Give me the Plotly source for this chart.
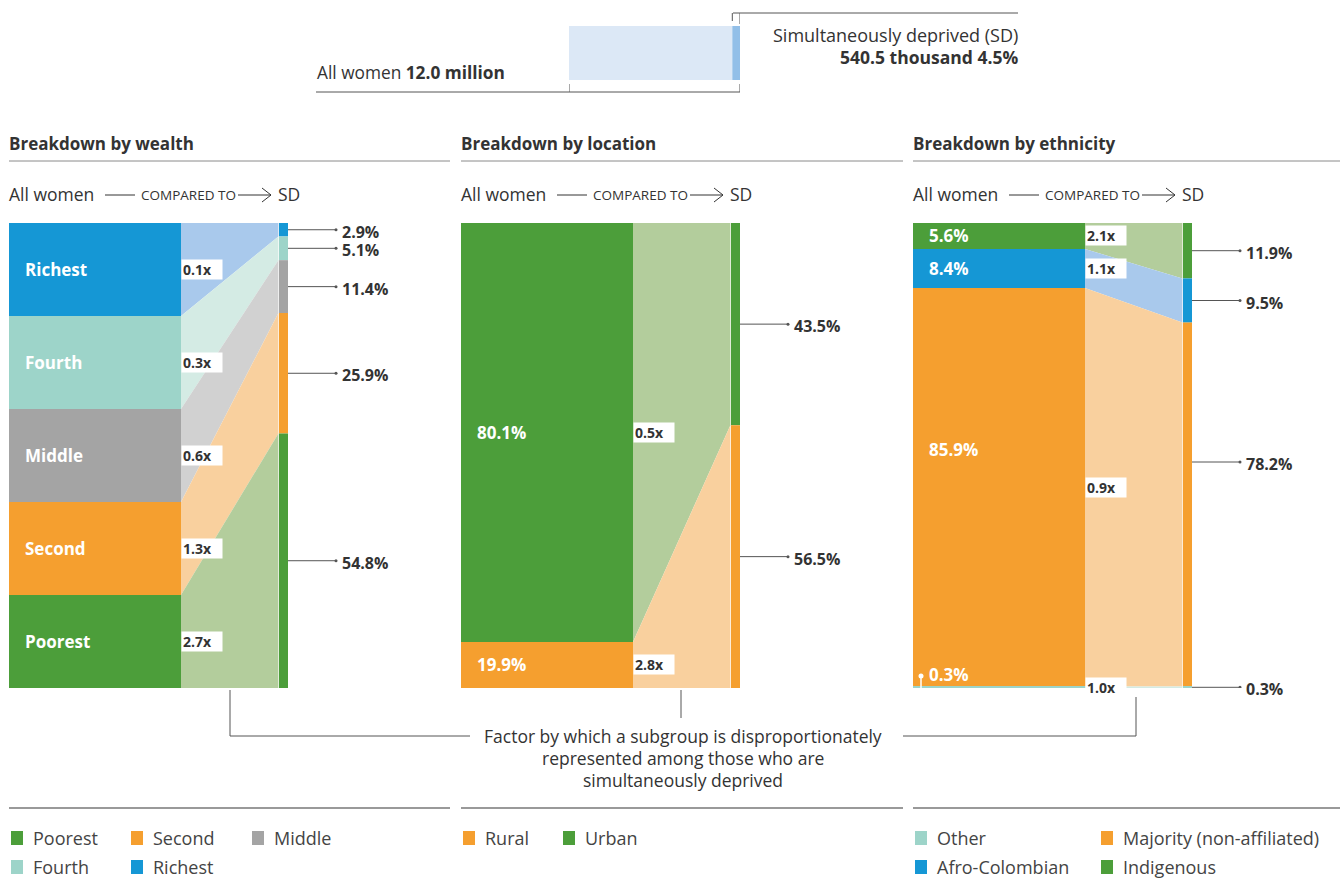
import plotly.graph_objects as go

# ---------------- data ----------------
total_women_label = "12.0 million"
sd_count_label = "540.5 thousand"
sd_share = 4.5

wealth_groups = ["Richest", "Fourth", "Middle", "Second", "Poorest"]
wealth_all = [20.0, 20.0, 20.0, 20.0, 20.0]
wealth_sd = [2.9, 5.1, 11.4, 25.9, 54.8]
wealth_factor = ["0.1x", "0.3x", "0.6x", "1.3x", "2.7x"]

location_groups = ["Urban", "Rural"]
location_all_labels = ["80.1%", "19.9%"]
location_all = [90.1, 9.9]          # bar split as drawn in the picture
location_sd = [43.5, 56.5]
location_factor = ["0.5x", "2.8x"]

eth_groups = ["Indigenous", "Afro-Colombian", "Majority (non-affiliated)", "Other"]
eth_all_labels = ["5.6%", "8.4%", "85.9%", "0.3%"]
eth_all = [5.6, 8.4, 85.9, 0.3]
eth_sd = [11.9, 9.5, 78.2, 0.3]
eth_factor = ["2.1x", "1.1x", "0.9x", "1.0x"]

# ---------------- styling ----------------
W, H = 1340, 878
FONT = "Open Sans"
TXT = "#333333"
GREEN, GREEN_L = "#4c9e3a", "#b3cd9c"
ORANGE, ORANGE_L = "#f59f2f", "#f9d09e"
GREY, GREY_L = "#a4a4a4", "#d1d1d1"
TEAL, TEAL_L = "#9dd4c9", "#d4ebe4"
BLUE, BLUE_L = "#1597d5", "#a9c9ec"

colors = {
    "Richest": (BLUE, BLUE_L), "Fourth": (TEAL, TEAL_L), "Middle": (GREY, GREY_L),
    "Second": (ORANGE, ORANGE_L), "Poorest": (GREEN, GREEN_L),
    "Urban": (GREEN, GREEN_L), "Rural": (ORANGE, ORANGE_L),
    "Indigenous": (GREEN, GREEN_L), "Afro-Colombian": (BLUE, BLUE_L),
    "Majority (non-affiliated)": (ORANGE, ORANGE_L), "Other": (TEAL, TEAL_L),
}

def X(px):
    return px / W

def Y(py):
    return 1 - py / H

# panel geometry (pixel units within each panel axis)
BAR_W = 172
FLOW_END = 270
SD_END = 279
CALL_END = SD_END + 48
LABEL_X = CALL_END + 4

panels = [
    dict(title="Breakdown by wealth", left=9, right=450, groups=wealth_groups,
         all=wealth_all, labels=wealth_groups, sd=wealth_sd, factor=wealth_factor,
         all_label_y={}, sd_label_y={}, factor_y={}),
    dict(title="Breakdown by location", left=461, right=903, groups=location_groups,
         all=location_all, labels=location_all_labels, sd=location_sd, factor=location_factor,
         all_label_y={}, sd_label_y={}, factor_y={}),
    dict(title="Breakdown by ethnicity", left=913, right=1340, groups=eth_groups,
         all=eth_all, labels=eth_all_labels, sd=eth_sd, factor=eth_factor,
         all_label_y={"Majority (non-affiliated)": 48.8, "Other": 97.0},
         sd_label_y={"Majority (non-affiliated)": 51.4}, factor_y={}),
]

TOP_PX, BOT_PX = 223, 688

fig = go.Figure()
annotations = []
shapes = []

def stack(vals):
    s = sum(vals)
    out, c = [], 0.0
    for v in vals:
        v2 = v * 100.0 / s
        out.append((c, c + v2))
        c += v2
    return out

for i, p in enumerate(panels):
    n = "" if i == 0 else str(i + 1)
    xa, ya = "x" + n, "y" + n
    pw = p["right"] - p["left"]
    fig.update_layout(**{
        "xaxis" + n: dict(domain=[X(p["left"]), X(p["right"])], range=[0, pw], visible=False, fixedrange=True),
        "yaxis" + n: dict(domain=[Y(BOT_PX), Y(TOP_PX)], range=[100, 0], visible=False, fixedrange=True),
    })
    sa = stack(p["all"])
    ss = stack(p["sd"])
    for g, lab, vs, (a0, a1), (s0, s1), fac in zip(p["groups"], p["labels"], p["sd"], sa, ss, p["factor"]):
        dark, light = colors[g]
        # flow band
        fig.add_trace(go.Scatter(
            x=[BAR_W, BAR_W, FLOW_END - 0.6, FLOW_END - 0.6, BAR_W],
            y=[a0, a1, s1, s0, a0], fill="toself", fillcolor=light,
            line=dict(width=0, color=light), mode="lines", hoverinfo="skip",
            showlegend=False, xaxis=xa, yaxis=ya))
        # all women bar
        fig.add_trace(go.Bar(x=[BAR_W / 2], y=[a1 - a0], base=[a0], width=[BAR_W],
                             marker=dict(color=dark, line=dict(width=0)),
                             showlegend=False, hoverinfo="skip", xaxis=xa, yaxis=ya))
        # SD bar
        fig.add_trace(go.Bar(x=[(FLOW_END + SD_END) / 2], y=[s1 - s0], base=[s0],
                             width=[SD_END - FLOW_END],
                             marker=dict(color=dark, line=dict(width=0)),
                             showlegend=False, hoverinfo="skip", xaxis=xa, yaxis=ya))
        # SD callout
        sy = p["sd_label_y"].get(g, (s0 + s1) / 2)
        fig.add_trace(go.Scatter(x=[SD_END, CALL_END], y=[sy, sy], mode="lines",
                                 line=dict(color="#555555", width=1), hoverinfo="skip",
                                 showlegend=False, xaxis=xa, yaxis=ya))
        fig.add_trace(go.Scatter(x=[CALL_END], y=[sy], mode="markers",
                                 marker=dict(color="#555555", size=3), hoverinfo="skip",
                                 showlegend=False, xaxis=xa, yaxis=ya))
        annotations.append(dict(x=LABEL_X, y=sy, xref=xa, yref=ya, text=f"<b>{vs}%</b>",
                                showarrow=False, xanchor="left", yanchor="middle", yshift=-2,
                                font=dict(family=FONT, size=16, color=TXT)))
        # left bar label
        ly = p["all_label_y"].get(g, (a0 + a1) / 2)
        annotations.append(dict(x=14, y=ly, xref=xa, yref=ya, text=f"<b>{lab}</b>",
                                showarrow=False, xanchor="left", yanchor="middle",
                                font=dict(family=FONT, size=17, color="white")))
        if g == "Other":
            fig.add_trace(go.Scatter(x=[8, 8], y=[a1, ly + 0.4], mode="lines",
                                     line=dict(color="white", width=1.5), hoverinfo="skip",
                                     showlegend=False, xaxis=xa, yaxis=ya))
            fig.add_trace(go.Scatter(x=[8], y=[ly + 0.4], mode="markers",
                                     marker=dict(color="white", size=5), hoverinfo="skip",
                                     showlegend=False, xaxis=xa, yaxis=ya))
        # factor label
        fy = p["factor_y"].get(g, (a0 + a1) / 2)
        annotations.append(dict(x=BAR_W - 0.5, y=fy, xref=xa, yref=ya, text=f"<b>{fac}</b>",
                                showarrow=False, xanchor="left", yanchor="middle",
                                width=38, height=17, align="left", bgcolor="white",
                                borderpad=1,
                                font=dict(family=FONT, size=14, color=TXT)))

    L = p["left"]
    # header
    annotations.append(dict(x=X(L - 2), y=Y(143), xref="paper", yref="paper", text=f"<b>{p['title']}</b>",
                            showarrow=False, xanchor="left", yanchor="middle",
                            font=dict(family=FONT, size=17, color=TXT)))
    shapes.append(dict(type="line", xref="paper", yref="paper", x0=X(L), x1=X(p["right"]),
                       y0=Y(161), y1=Y(161), line=dict(color="#8a8a8a", width=1)))
    annotations.append(dict(x=X(L - 2), y=Y(194), xref="paper", yref="paper", text="All women",
                            showarrow=False, xanchor="left", yanchor="middle",
                            font=dict(family=FONT, size=17.5, color=TXT)))
    shapes.append(dict(type="line", xref="paper", yref="paper", x0=X(L + 96), x1=X(L + 126),
                       y0=Y(195), y1=Y(195), line=dict(color=TXT, width=1)))
    annotations.append(dict(x=X(L + 179), y=Y(195), xref="paper", yref="paper", text="COMPARED TO",
                            showarrow=False, xanchor="center", yanchor="middle",
                            font=dict(family=FONT, size=13.5, color=TXT)))
    shapes.append(dict(type="line", xref="paper", yref="paper", x0=X(L + 229), x1=X(L + 262),
                       y0=Y(195), y1=Y(195), line=dict(color=TXT, width=1)))
    shapes.append(dict(type="path", xref="paper", yref="paper",
                       path=f"M {X(L + 253)} {Y(188)} L {X(L + 262)} {Y(195)} L {X(L + 253)} {Y(202)}",
                       line=dict(color=TXT, width=1)))
    annotations.append(dict(x=X(L + 267), y=Y(194), xref="paper", yref="paper", text="SD",
                            showarrow=False, xanchor="left", yanchor="middle",
                            font=dict(family=FONT, size=17.5, color=TXT)))
    # legend separator
    shapes.append(dict(type="line", xref="paper", yref="paper", x0=X(L), x1=X(p["right"]),
                       y0=Y(808), y1=Y(808), line=dict(color="#999999", width=2)))

# ---------------- top summary bar ----------------
fig.update_layout(
    xaxis4=dict(domain=[X(569), X(740)], range=[0, 100], visible=False, fixedrange=True),
    yaxis4=dict(domain=[Y(80), Y(26)], range=[-0.5, 0.5], visible=False, fixedrange=True),
)
fig.add_trace(go.Bar(x=[100 - sd_share], base=[0], y=[0], width=[1], orientation="h",
                     marker=dict(color="#dce8f6", line=dict(width=0)), showlegend=False,
                     hoverinfo="skip", xaxis="x4", yaxis="y4"))
fig.add_trace(go.Bar(x=[sd_share], base=[100 - sd_share], y=[0], width=[1], orientation="h",
                     marker=dict(color="#92bfe8", line=dict(width=0)), showlegend=False,
                     hoverinfo="skip", xaxis="x4", yaxis="y4"))
LC = "#555555"
shapes += [
    dict(type="line", xref="paper", yref="paper", x0=X(316), x1=X(740), y0=Y(92), y1=Y(92), line=dict(color=LC, width=1)),
    dict(type="line", xref="x4", yref="paper", x0=0, x1=0, y0=Y(84), y1=Y(92), line=dict(color=LC, width=1)),
    dict(type="line", xref="x4", yref="paper", x0=100, x1=100, y0=Y(84), y1=Y(92), line=dict(color=LC, width=1)),
    dict(type="line", xref="x4", yref="paper", x0=100 - sd_share, x1=100 - sd_share, y0=Y(13), y1=Y(21), line=dict(color=LC, width=1)),
    dict(type="line", xref="x4", yref="paper", x0=100, x1=100, y0=Y(13), y1=Y(24), line=dict(color=LC, width=1)),
    dict(type="line", xref="paper", yref="paper", x0=X(733), x1=X(1018), y0=Y(13), y1=Y(13), line=dict(color=LC, width=1)),
]
annotations += [
    dict(x=X(507), y=Y(73), xref="paper", yref="paper", text=f"All women <b>{total_women_label}</b>",
         showarrow=False, xanchor="right", yanchor="middle", font=dict(family=FONT, size=17.3, color=TXT)),
    dict(x=X(1020), y=Y(35), xref="paper", yref="paper", text="Simultaneously deprived (SD)",
         showarrow=False, xanchor="right", yanchor="middle", font=dict(family=FONT, size=18, color=TXT)),
    dict(x=X(1020), y=Y(57), xref="paper", yref="paper", text=f"<b>{sd_count_label} {sd_share}%</b>",
         showarrow=False, xanchor="right", yanchor="middle", font=dict(family=FONT, size=17.5, color=TXT)),
]

# ---------------- factor explanation bracket ----------------
shapes += [
    dict(type="path", xref="paper", yref="paper",
         path=f"M {X(230)} {Y(690)} L {X(230)} {Y(736)} L {X(470)} {Y(736)}", line=dict(color=LC, width=1)),
    dict(type="path", xref="paper", yref="paper",
         path=f"M {X(903)} {Y(736)} L {X(1136)} {Y(736)} L {X(1136)} {Y(697)}", line=dict(color=LC, width=1)),
    dict(type="line", xref="paper", yref="paper", x0=X(681), x1=X(681), y0=Y(690), y1=Y(718), line=dict(color=LC, width=1)),
]
for t, yy in [("Factor by which a subgroup is disproportionately", 736),
              ("represented among those who are", 758),
              ("simultaneously deprived", 780)]:
    annotations.append(dict(x=X(683), y=Y(yy), xref="paper", yref="paper", text=t, showarrow=False,
                            xanchor="center", yanchor="middle", font=dict(family=FONT, size=17.5, color=TXT)))

# ---------------- legends ----------------
legend_items = [
    ("Poorest", 11, 838), ("Second", 131, 838), ("Middle", 252, 838),
    ("Fourth", 11, 867), ("Richest", 131, 867),
    ("Rural", 463, 838), ("Urban", 563, 838),
    ("Other", 915, 838), ("Majority (non-affiliated)", 1101, 838),
    ("Afro-Colombian", 915, 867), ("Indigenous", 1101, 867),
]
for name, lx, ly in legend_items:
    shapes.append(dict(type="rect", xref="paper", yref="paper", x0=X(lx), x1=X(lx + 12),
                       y0=Y(ly + 7), y1=Y(ly - 7), fillcolor=colors[name][0], line=dict(width=0)))
    annotations.append(dict(x=X(lx + 20), y=Y(ly), xref="paper", yref="paper", text=name,
                            showarrow=False, xanchor="left", yanchor="middle",
                            font=dict(family=FONT, size=18, color="#444444")))

fig.update_layout(
    width=W, height=H, margin=dict(l=0, r=0, t=0, b=0),
    paper_bgcolor="white", plot_bgcolor="rgba(0,0,0,0)",
    barmode="overlay", showlegend=False,
    annotations=annotations, shapes=shapes,
    font=dict(family=FONT, color=TXT),
)

fig.write_html("out.html", config={"displayModeBar": False},
               post_script="document.body.style.margin='0';")
